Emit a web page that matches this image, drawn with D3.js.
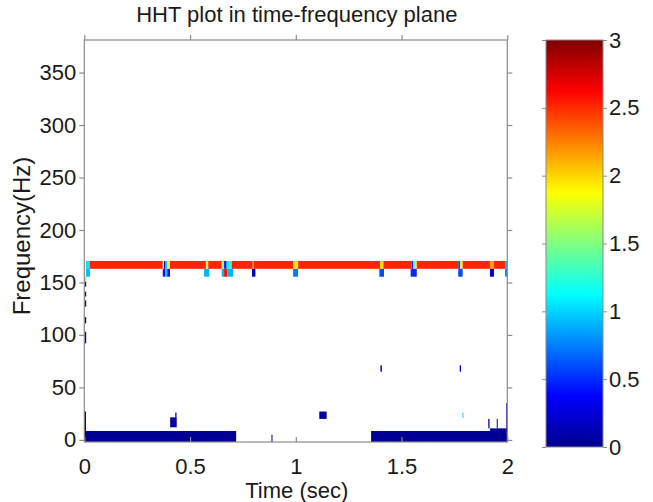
<!DOCTYPE html>
<html><head><meta charset="utf-8">
<script src="https://cdn.jsdelivr.net/npm/d3@7"></script>
<style>
html,body{margin:0;padding:0;background:#fff;}
text{font-family:"Liberation Sans",Arial,Helvetica,sans-serif;fill:#1a1a1a;}
</style></head>
<body><svg id="c" width="653" height="502"></svg>
<script>
// ---------- data ----------
const titleText = "HHT plot in time-frequency plane";
const xLabelText = "Time (sec)";
const yLabelText = "Frequency(Hz)";
const timeTicks = [0, 0.5, 1, 1.5, 2];
const timeTickLabels = ["0", "0.5", "1", "1.5", "2"];
const freqTicks = [0, 50, 100, 150, 200, 250, 300, 350];
const colorTicks = [0, 0.5, 1, 1.5, 2, 2.5, 3];
const colorTickLabels = ["0", "0.5", "1", "1.5", "2", "2.5", "3"];
const timeDomain = [0, 2];
const freqDomain = [-2, 381];
const ampDomain = [0, 3];

// main ridge row (frequency band in Hz)
const ridgeBand = [163, 170.5];
// [t0, t1, amplitude]
const ridgeSegments = [
  [0.008, 0.027, 1.05], [0.027, 0.371, 2.52], [0.371, 0.377, 1.9], [0.377, 0.384, 0.35],
  [0.384, 0.392, 1.0], [0.392, 0.405, 1.85], [0.405, 0.575, 2.52], [0.575, 0.586, 1.75],
  [0.586, 0.650, 2.52], [0.650, 0.661, 1.5], [0.661, 0.673, 0.45], [0.673, 0.684, 1.1],
  [0.684, 0.697, 1.25], [0.697, 0.793, 2.52], [0.793, 0.802, 2.2], [0.802, 0.987, 2.52],
  [0.987, 1.011, 1.95], [1.011, 1.398, 2.52], [1.398, 1.414, 1.95], [1.414, 1.548, 2.52],
  [1.548, 1.554, 0.5], [1.554, 1.563, 1.3], [1.563, 1.572, 1.9], [1.572, 1.768, 2.52],
  [1.768, 1.778, 0.6], [1.778, 1.789, 1.9], [1.789, 1.918, 2.52], [1.918, 1.937, 2.15],
  [1.937, 1.989, 2.52], [1.989, 2.0, 0.9]
];
// row just below the ridge
const subBand = [155.5, 163];
const subSegments = [
  [0.008, 0.027, 0.95], [0.371, 0.383, 0.45], [0.383, 0.392, 0.95], [0.392, 0.405, 0.35],
  [0.566, 0.591, 0.9], [0.650, 0.661, 0.9], [0.661, 0.676, 2.6], [0.676, 0.704, 0.9],
  [0.793, 0.809, 0.15], [0.987, 1.011, 0.75], [1.395, 1.417, 0.6], [1.543, 1.572, 0.5],
  [1.768, 1.789, 0.6], [1.918, 1.937, 0.2], [1.989, 2.0, 0.8]
];
// scattered low-amplitude cells [t0, t1, f0, f1, amplitude]
const lowCells = [
  [0.000, 0.718, -2, 8.5, 0.02], [1.356, 2.000, -2, 8.5, 0.02],
  [1.918, 2.000, 8.5, 11, 0.02], [1.910, 1.916, 11, 20, 0.05], [1.950, 1.954, 11, 20, 0.05],
  [1.995, 2.000, 8.5, 35, 0.1], [0.000, 0.008, 8.5, 27, 0.05],
  [0.406, 0.437, 12, 21.5, 0.05], [0.430, 0.436, 21.5, 26, 0.1],
  [1.111, 1.146, 20, 27, 0.05], [1.400, 1.407, 65, 71, 0.15], [1.775, 1.781, 65, 71, 0.15],
  [1.788, 1.792, 21, 26, 1.0], [0.885, 0.889, -2, 5, 0.1],
  [0.003, 0.010, 150.7, 155.5, 1.6],
  [0.002, 0.009, 146, 150.7, 0.3], [0.002, 0.009, 136.6, 141.2, 0.3],
  [0.002, 0.009, 127, 133, 0.3], [0.002, 0.009, 111, 117, 0.3], [0.002, 0.009, 92, 103, 0.3]
];
// jet colormap stops
const jetPos = [0, 0.125, 0.375, 0.625, 0.875, 1];
const jetColors = ["#00008f", "#0000ff", "#00ffff", "#ffff00", "#ff0000", "#800000"];

// ---------- drawing ----------
const svg = d3.select("#c");
const plot = {left: 84.3, right: 507.3, top: 40, bottom: 442};
const cbar = {left: 546, right: 603, top: 40, bottom: 447};

const x = d3.scaleLinear().domain(timeDomain).range([plot.left, plot.right]);
const y = d3.scaleLinear().domain(freqDomain).range([plot.bottom, plot.top]);
const jet = d3.scaleLinear().domain(jetPos.map(p => ampDomain[0] + p * (ampDomain[1] - ampDomain[0])))
  .range(jetColors).interpolate(d3.interpolateRgb).clamp(true);
const cy = d3.scaleLinear().domain(ampDomain).range([cbar.bottom, cbar.top]);

const cells = [];
ridgeSegments.forEach(s => cells.push({t0: s[0], t1: s[1], f0: ridgeBand[0], f1: ridgeBand[1], v: s[2]}));
subSegments.forEach(s => cells.push({t0: s[0], t1: s[1], f0: subBand[0], f1: subBand[1], v: s[2]}));
lowCells.forEach(s => cells.push({t0: s[0], t1: s[1], f0: s[2], f1: s[3], v: s[4]}));

svg.append("g").selectAll("rect").data(cells).join("rect")
  .attr("x", d => x(d.t0)).attr("width", d => Math.max(1, x(d.t1) - x(d.t0)))
  .attr("y", d => y(d.f1)).attr("height", d => y(d.f0) - y(d.f1))
  .attr("fill", d => jet(d.v));

const axisColor = "#8a8a8a";
// box
svg.append("rect").attr("x", plot.left).attr("y", plot.top)
  .attr("width", plot.right - plot.left).attr("height", plot.bottom - plot.top)
  .attr("fill", "none").attr("stroke", axisColor).attr("stroke-width", 1.2);

const tl = 5;
const axB = svg.append("g").attr("transform", `translate(0,${plot.bottom})`)
  .call(d3.axisBottom(x).tickValues(timeTicks).tickFormat((d, i) => timeTickLabels[i]).tickSize(-tl).tickPadding(16));
const axT = svg.append("g").attr("transform", `translate(0,${plot.top})`)
  .call(d3.axisTop(x).tickValues(timeTicks).tickFormat("").tickSize(tl));
const axL = svg.append("g").attr("transform", `translate(${plot.left},0)`)
  .call(d3.axisLeft(y).tickValues(freqTicks).tickSize(tl).tickPadding(3));
const axR = svg.append("g").attr("transform", `translate(${plot.right},0)`)
  .call(d3.axisRight(y).tickValues(freqTicks).tickFormat("").tickSize(tl));
[axB, axT, axL, axR].forEach(a => {
  a.select(".domain").remove();
  a.selectAll(".tick line").attr("stroke", axisColor).attr("stroke-width", 1.2);
  a.selectAll(".tick text").attr("font-size", 22).attr("font-family", null).attr("fill", "#1a1a1a");
});

// title and labels
svg.append("text").attr("x", (plot.left + plot.right) / 2 + 1).attr("y", 22)
  .attr("text-anchor", "middle").attr("font-size", 22).text(titleText);
svg.append("text").attr("x", (plot.left + plot.right) / 2 + 1).attr("y", 498)
  .attr("text-anchor", "middle").attr("font-size", 22).text(xLabelText);
svg.append("text").attr("transform", `translate(30,${(plot.top + plot.bottom) / 2 - 5}) rotate(-90)`)
  .attr("text-anchor", "middle").attr("font-size", 24).text(yLabelText);

// colorbar
const defs = svg.append("defs");
const grad = defs.append("linearGradient").attr("id", "jetgrad")
  .attr("x1", 0).attr("y1", 1).attr("x2", 0).attr("y2", 0);
grad.selectAll("stop").data(jetPos).join("stop")
  .attr("offset", d => d).attr("stop-color", (d, i) => jetColors[i]);
svg.append("rect").attr("x", cbar.left).attr("y", cbar.top)
  .attr("width", cbar.right - cbar.left).attr("height", cbar.bottom - cbar.top)
  .attr("fill", "url(#jetgrad)").attr("stroke", axisColor).attr("stroke-width", 1);
const cax = svg.append("g").attr("transform", `translate(${cbar.right},0)`)
  .call(d3.axisRight(cy).tickValues(colorTicks).tickFormat((d, i) => colorTickLabels[i]).tickSize(4).tickPadding(2));
const caxL = svg.append("g").attr("transform", `translate(${cbar.left},0)`)
  .call(d3.axisLeft(cy).tickValues(colorTicks).tickFormat("").tickSize(4));
[cax, caxL].forEach(a => {
  a.select(".domain").remove();
  a.selectAll(".tick line").attr("stroke", axisColor);
  a.selectAll(".tick text").attr("font-size", 22).attr("font-family", null).attr("fill", "#1a1a1a");
});
</script></body></html>
